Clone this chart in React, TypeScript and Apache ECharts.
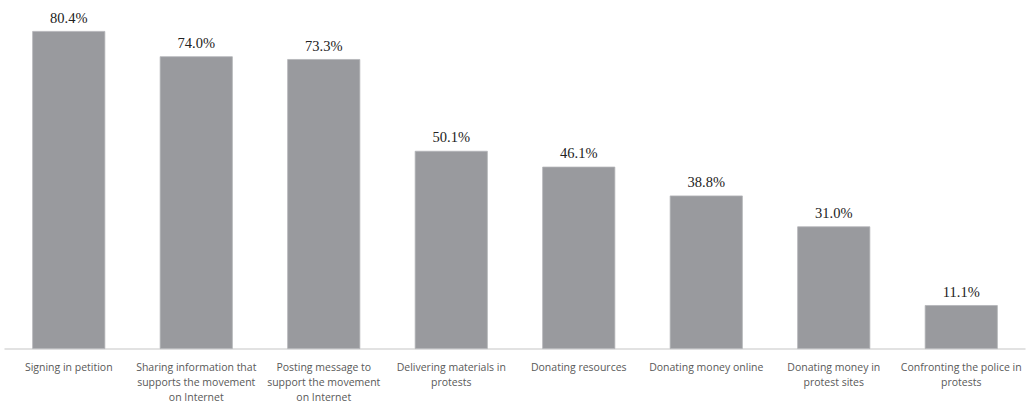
import React, { useEffect, useRef } from "react";
import * as echarts from "echarts";

const categories = [
  "Signing in petition",
  "Sharing information that\nsupports the movement\non Internet",
  "Posting message to\nsupport the movement\non Internet",
  "Delivering materials in\nprotests",
  "Donating resources",
  "Donating money online",
  "Donating money in\nprotest sites",
  "Confronting the police in\nprotests",
];
const values = [80.4, 74.0, 73.3, 50.1, 46.1, 38.8, 31.0, 11.1];

export default function App() {
  const ref = useRef<HTMLDivElement>(null);
  useEffect(() => {
    if (!ref.current) return;
    const chart = echarts.init(ref.current, null, { renderer: "svg" });
    chart.setOption({
      animation: false,
      grid: { left: 5, right: 7, top: 31, bottom: 51, containLabel: false },
      xAxis: {
        type: "category",
        data: categories,
        axisLine: { lineStyle: { color: "#d9d9d9", width: 1.5 } },
        axisTick: { show: false },
        axisLabel: {
          interval: 0,
          color: "#595959",
          fontFamily: "Open Sans",
          fontSize: 10.5,
          lineHeight: 15,
          margin: 10,
        },
      },
      yAxis: {
        type: "value",
        min: 0,
        max: 80.4,
        show: false,
        splitLine: { show: false },
      },
      series: [
        {
          type: "bar",
          data: values,
          barWidth: 73,
          itemStyle: { color: "#999a9e", borderColor: "#b3b4b7", borderWidth: 0.8 },
          label: {
            show: true,
            position: "top",
            distance: 6,
            formatter: (p: any) => p.value.toFixed(1) + "%",
            fontFamily: "Liberation Serif",
            fontSize: 14.5,
            color: "#222",
          },
        },
      ],
    });
    return () => chart.dispose();
  }, []);
  return <div ref={ref} style={{ width: 1032, height: 404, position: "absolute", left: 0, top: 0 }} />;
}
